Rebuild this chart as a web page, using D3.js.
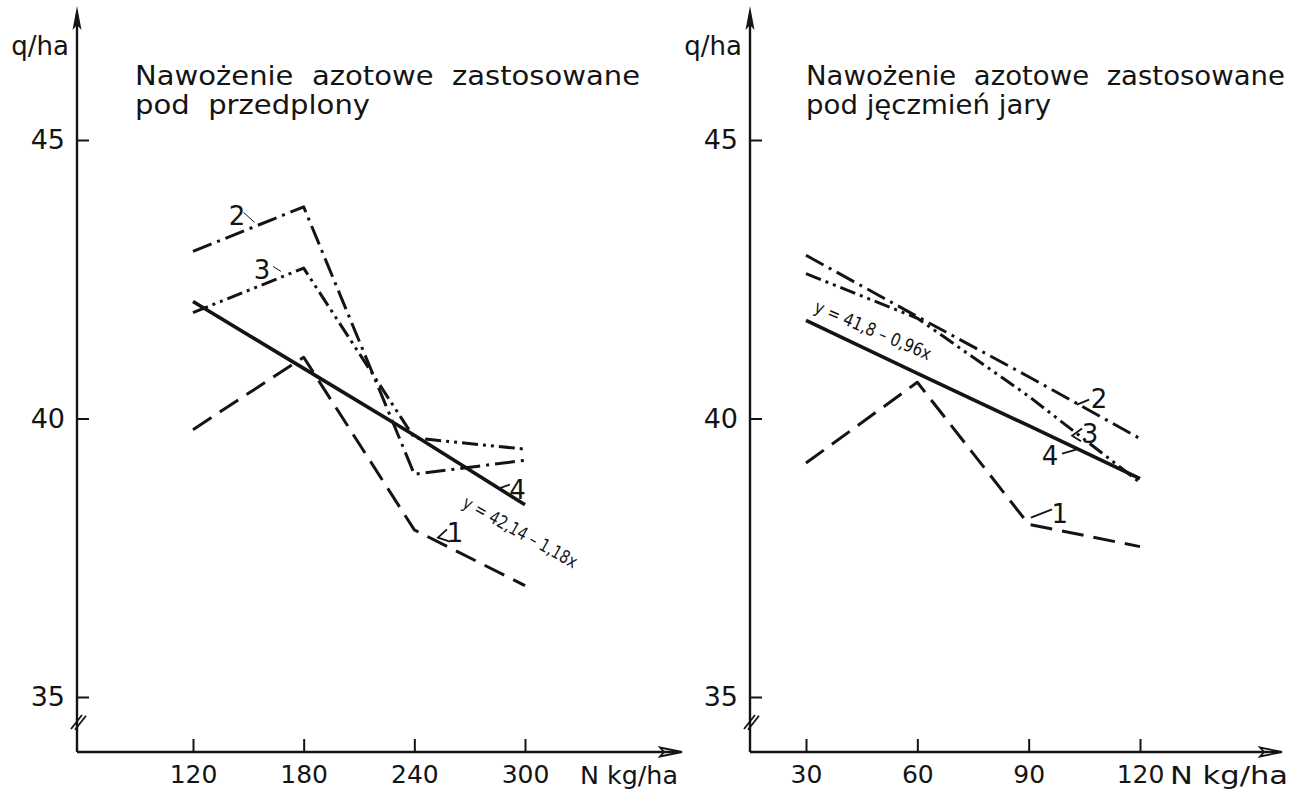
<!DOCTYPE html>
<html><head><meta charset="utf-8">
<script src="https://cdn.jsdelivr.net/npm/d3@7"></script>
<style>body{margin:0;background:#fff}</style>
</head><body>
<svg id="chart" width="1306" height="795"></svg>
<script>
// ---------- data ----------
const leftX  = [120, 180, 240, 300];
const leftS1 = [39.8, 41.1, 38.0, 37.0];
const leftS2 = [43.0, 43.8, 39.0, 39.25];
const leftS3 = [41.9, 42.7, 39.65, 39.45];
const leftS4 = [42.1, 40.9, 39.7, 38.45];

const rightX  = [30, 60, 90, 120];
const rightS1 = [39.2, 40.65, 38.1, 37.7];
const rightS2 = [42.93, 41.83, 40.75, 39.64];
const rightS3 = [42.6, 41.8, 40.4, 38.85];
const rightS4 = [41.76, 40.81, 39.87, 38.92];

const yTicks = [35, 40, 45];
const leftTicks = [120, 180, 240, 300];
const rightTicks = [30, 60, 90, 120];
const seriesNames = ["1", "2", "3", "4"];
const leftTitle = ["Nawożenie  azotowe  zastosowane", "pod  przedplony"];
const rightTitle = ["Nawożenie  azotowe  zastosowane", "pod jęczmień jary"];
const leftEq = "y = 42,14 – 1,18x";
const rightEq = "y = 41,8 – 0,96x";
const yUnit = "q/ha";
const xUnit = "N kg/ha";

// ---------- drawing ----------
const svg = d3.select("#chart");
const ink = "#141414";
const font = "'DejaVu Sans', sans-serif";
const dashes = ["22,10", "20,6,3,6", "16,5,3,5,3,5", null];
const widths = [3, 3, 3, 3.6];

function drawPanel(cfg) {
  const g = svg.append("g");
  const x = d3.scaleLinear().domain(cfg.xDomain).range(cfg.xRange);
  const y = d3.scaleLinear().domain([35, 45]).range([697, 140]);
  const x0 = cfg.originX, yBase = 752;

  // y axis line with arrow and break
  g.append("line").attr("x1", x0).attr("x2", x0).attr("y1", yBase).attr("y2", 14)
    .attr("stroke", ink).attr("stroke-width", 2.4);
  g.append("path").attr("d", `M${x0},6 L${x0-4.5},30 L${x0},25 L${x0+4.5},30 Z`).attr("fill", ink);
  [0, 4].forEach(o => g.append("line")
    .attr("x1", x0 - 6 + o).attr("y1", 729 + o * 0.2)
    .attr("x2", x0 + 5 + o).attr("y2", 715 + o * 0.2)
    .attr("stroke", ink).attr("stroke-width", 1.8));

  // x axis line with arrow
  g.append("line").attr("x1", x0).attr("x2", cfg.axisEnd - 4).attr("y1", yBase).attr("y2", yBase)
    .attr("stroke", ink).attr("stroke-width", 2.4);
  g.append("path").attr("d", `M${cfg.axisEnd},${yBase} L${cfg.axisEnd-22},${yBase-4.5} L${cfg.axisEnd-18},${yBase} L${cfg.axisEnd-22},${yBase+4.5} Z`)
    .attr("fill", "none").attr("stroke", ink).attr("stroke-width", 1.8);

  // y ticks
  const ya = g.append("g").attr("transform", `translate(${x0},0)`)
    .call(d3.axisLeft(y).tickValues(yTicks).tickSizeInner(-12).tickSizeOuter(0).tickPadding(12).tickFormat(d3.format("d")));
  ya.select(".domain").remove();
  ya.selectAll(".tick line").attr("stroke", ink).attr("stroke-width", 2);
  ya.selectAll(".tick text").attr("font-family", font).attr("font-size", 27).attr("fill", ink);

  // x ticks
  const xa = g.append("g").attr("transform", `translate(0,${yBase})`)
    .call(d3.axisBottom(x).tickValues(cfg.ticks).tickSizeInner(-13).tickSizeOuter(0).tickPadding(13).tickFormat(d3.format("d")));
  xa.select(".domain").remove();
  xa.selectAll(".tick line").attr("stroke", ink).attr("stroke-width", 2);
  xa.selectAll(".tick text").attr("font-family", font).attr("font-size", 25).attr("fill", ink);

  // unit labels
  g.append("text").attr("x", x0 - 8).attr("y", 55).attr("text-anchor", "end")
    .attr("font-family", font).attr("font-size", 26).attr("fill", ink).text(yUnit);
  g.append("text").attr("x", cfg.xUnitX).attr("y", 784)
    .attr("font-family", font).attr("font-size", 25).attr("fill", ink)
    .attr("textLength", cfg.xUnitLen).attr("lengthAdjust", "spacingAndGlyphs").text(xUnit);

  // titles
  cfg.title.forEach((t, i) => g.append("text")
    .attr("x", cfg.titleX).attr("y", 85 + i * 29)
    .attr("font-family", font).attr("font-size", 27).attr("fill", ink)
    .attr("textLength", cfg.titleLen[i]).attr("lengthAdjust", "spacingAndGlyphs")
    .style("white-space", "pre").text(t));

  // series
  const line = d3.line().x(d => x(d[0])).y(d => y(d[1]));
  cfg.series.forEach((vals, i) => {
    const xs = cfg.xVals;
    g.append("path").datum(vals.map((v, j) => [xs[j], v]))
      .attr("d", line).attr("fill", "none").attr("stroke", ink)
      .attr("stroke-width", widths[i]).attr("stroke-dasharray", dashes[i])
      .attr("stroke-linejoin", "round");
  });

  // series labels and leaders
  cfg.labels.forEach(l => {
    g.append("text").attr("x", x(l.x)).attr("y", y(l.y)).attr("dy", "0.35em")
      .attr("text-anchor", "middle").attr("font-family", font).attr("font-size", 26)
      .attr("fill", ink).text(l.t);
    g.append("path").datum(l.lead).attr("d", line).attr("fill", "none")
      .attr("stroke", ink).attr("stroke-width", l.thin ? 1 : 1.8);
  });

  // regression equation
  g.append("text")
    .attr("transform", `translate(${x(cfg.eq.x)},${y(cfg.eq.y)}) rotate(${cfg.eq.rot})`)
    .attr("font-family", font).attr("font-size", 18)
    .attr("textLength", cfg.eq.len).attr("lengthAdjust", "spacingAndGlyphs")
    .attr("fill", ink).text(cfg.eq.t);
}

drawPanel({
  xDomain: [120, 300], xRange: [193, 525], originX: 77, axisEnd: 682,
  ticks: leftTicks, xVals: leftX, xUnitX: 580, xUnitLen: 98,
  title: leftTitle, titleX: 135, titleLen: [505, 235],
  series: [leftS1, leftS2, leftS3, leftS4],
  labels: [
    {t: seriesNames[1], x: 143.9, y: 43.64, thin: true, lead: [[147.4, 43.70], [153.4, 43.52]]},
    {t: seriesNames[2], x: 157.4, y: 42.66, thin: true, lead: [[163.4, 42.73], [167.7, 42.64]]},
    {t: seriesNames[3], x: 296.0, y: 38.72, lead: [[291.8, 38.815], [285.8, 38.743], [291.8, 38.618]]},
    {t: seriesNames[0], x: 262.0, y: 37.95, lead: [[257.7, 38.01], [252.8, 37.86], [259.3, 37.79]]}
  ],
  eq: {t: leftEq, x: 265.5, y: 38.42, rot: 29, len: 128}
});

drawPanel({
  xDomain: [30, 120], xRange: [806, 1140], originX: 750, axisEnd: 1282,
  ticks: rightTicks, xVals: rightX, xUnitX: 1170, xUnitLen: 118,
  title: rightTitle, titleX: 806, titleLen: [479, 245],
  series: [rightS1, rightS2, rightS3, rightS4],
  labels: [
    {t: seriesNames[1], x: 108.95, y: 40.36, lead: [[103.0, 40.25], [106.3, 40.34]]},
    {t: seriesNames[2], x: 106.5, y: 39.73, lead: [[104.4, 39.82], [101.7, 39.69], [104.1, 39.59]]},
    {t: seriesNames[3], x: 95.75, y: 39.32, lead: [[99.0, 39.37], [102.8, 39.44]]},
    {t: seriesNames[0], x: 98.4, y: 38.29, lead: [[96.3, 38.37], [90.6, 38.22]]}
  ],
  eq: {t: rightEq, x: 31.9, y: 41.92, rot: 23, len: 125}
});
</script>
</body></html>
